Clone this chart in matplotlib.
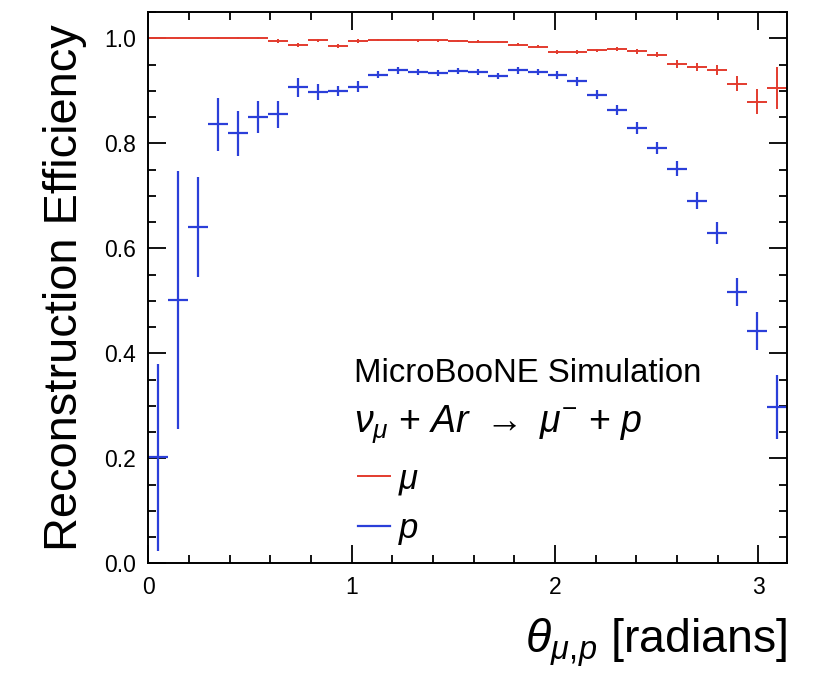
import numpy as np
import matplotlib
matplotlib.use('Agg')
import matplotlib.pyplot as plt
from matplotlib.lines import Line2D
from matplotlib.ticker import MultipleLocator, FormatStrFormatter

plt.rcParams['font.family'] = ['Liberation Sans', 'DejaVu Sans']
plt.rcParams['mathtext.fontset'] = 'custom'
plt.rcParams['mathtext.rm'] = 'Liberation Sans'
plt.rcParams['mathtext.it'] = 'Liberation Sans:italic'

# 32 bins from 0 to pi
nbins = 32
edges = np.linspace(0, np.pi, nbins + 1)
centers = 0.5 * (edges[1:] + edges[:-1])
halfw = 0.5 * (edges[1:] - edges[:-1])

# muon efficiency
mu_eff = [1.0, 1.0, 1.0, 1.0, 1.0, 1.0, 0.995, 0.988, 0.996, 0.986,
          0.995, 0.997, 0.997, 0.996, 0.996, 0.995, 0.994, 0.993, 0.988, 0.984,
          0.974, 0.974, 0.977, 0.980, 0.975, 0.969, 0.951, 0.945, 0.940, 0.914,
          0.879, 0.906]
mu_err = [0.001, 0.001, 0.001, 0.002, 0.002, 0.002, 0.003, 0.004, 0.003, 0.004,
          0.003, 0.002, 0.002, 0.002, 0.002, 0.002, 0.002, 0.002, 0.003, 0.003,
          0.003, 0.003, 0.003, 0.004, 0.004, 0.005, 0.007, 0.008, 0.009, 0.015,
          0.024, 0.040]

# proton efficiency
p_eff = [0.202, 0.501, 0.641, 0.836, 0.819, 0.850, 0.855, 0.907, 0.898, 0.900,
         0.908, 0.931, 0.939, 0.936, 0.934, 0.938, 0.936, 0.928, 0.939, 0.936,
         0.930, 0.918, 0.893, 0.864, 0.829, 0.791, 0.752, 0.691, 0.629, 0.517,
         0.443, 0.298]
p_err = [0.178, 0.246, 0.095, 0.051, 0.043, 0.031, 0.025, 0.018, 0.015, 0.010,
         0.010, 0.007, 0.006, 0.006, 0.006, 0.006, 0.006, 0.006, 0.006, 0.006,
         0.007, 0.008, 0.009, 0.010, 0.011, 0.012, 0.014, 0.017, 0.021, 0.026,
         0.036, 0.061]

red = '#e33b2e'
blue = '#2b3fd9'

fig = plt.figure(figsize=(8.19, 6.73), dpi=100)
ax = fig.add_axes([0.181, 0.163, 0.780, 0.819])

ax.errorbar(centers, mu_eff, xerr=halfw, yerr=mu_err, fmt='none',
            ecolor=red, elinewidth=1.4, capsize=0)
ax.errorbar(centers, p_eff, xerr=halfw, yerr=p_err, fmt='none',
            ecolor=blue, elinewidth=1.6, capsize=0)

ax.set_xlim(0, np.pi)
ax.set_ylim(0, 1.05)

ax.xaxis.set_major_locator(MultipleLocator(1))
ax.xaxis.set_minor_locator(MultipleLocator(0.2))
ax.yaxis.set_major_locator(MultipleLocator(0.2))
ax.yaxis.set_minor_locator(MultipleLocator(0.05))
ax.yaxis.set_major_formatter(FormatStrFormatter('%.1f'))
ax.tick_params(which='both', direction='in', top=True, right=True,
               labelsize=16.5, width=1.3)
ax.tick_params(which='major', length=13, pad=9)
ax.tick_params(which='minor', length=6)
for s in ax.spines.values():
    s.set_linewidth(1.4)

ax.set_ylabel('Reconstruction Efficiency', fontsize=33.8, labelpad=12)
ax.set_xlabel(r'$\theta_{\mu,\!p}$ [radians]', fontsize=33.5, loc='right',
              labelpad=13)

ax.text(0.322, 0.345, 'MicroBooNE Simulation', transform=ax.transAxes,
        fontsize=23.7, va='center')
ax.text(0.322, 0.252, r'$\nu_{\mu}$ + $Ar$ $\rightarrow$ $\mu^{-}$ + $p$',
        transform=ax.transAxes, fontsize=27, va='center')

handles = [Line2D([], [], color=red, lw=1.4), Line2D([], [], color=blue, lw=1.6)]
ax.legend(handles, [r'$\mu$', r'$p$'], loc='upper left',
          bbox_to_anchor=(0.28, 0.24), frameon=False, fontsize=25,
          handlelength=0.9, handletextpad=0.25, labelspacing=0.45)

fig.savefig('out.png', dpi=100)
